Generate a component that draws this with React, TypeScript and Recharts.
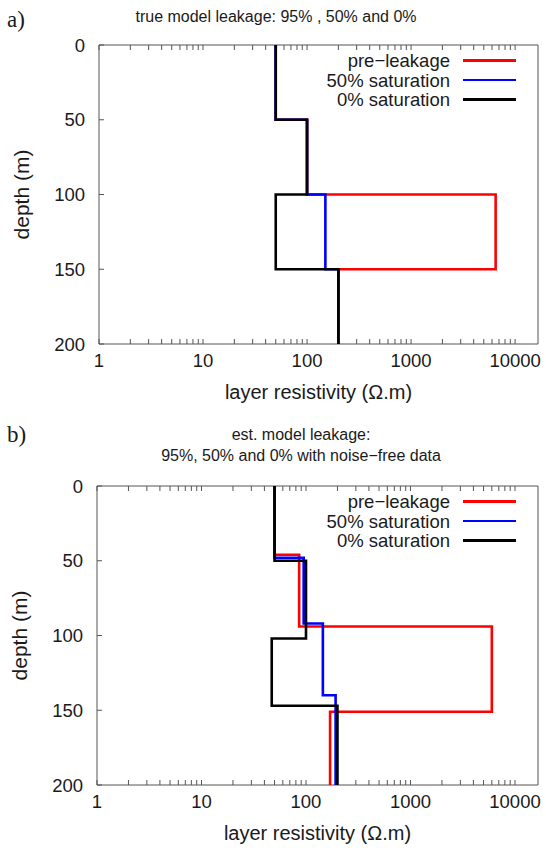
import React from "react";
import { Scatter, ScatterChart, XAxis, YAxis } from "recharts";

// panel a: true model, layer tops (m) and resistivities (ohm.m)
const trueTops = [0, 50, 100, 150];
const truePre = [50, 100, 6500, 200];
const true50 = [50, 100, 150, 200];
const true0 = [50, 100, 50, 200];

// panel b: estimated models, each with its own interfaces
const estPreTops = [0, 46, 94, 151];
const estPre = [50, 86, 6000, 170];
const est50Tops = [0, 48, 92, 140];
const est50 = [50, 95, 145, 192];
const est0Tops = [0, 50, 102, 147];
const est0 = [50, 100, 47, 200];

const maxDepth = 200;
const depthTicks = [0, 50, 100, 150, 200];
const resDecades = [1, 10, 100, 1000, 10000];
const resMinor = [1, 10, 100, 1000].flatMap((d) => [2, 3, 4, 5, 6, 7, 8, 9].map((m) => m * d));
const resTicks = [...resDecades, ...resMinor].sort((a, b) => a - b);
const resDomain = [1, 16600];

const seriesNames = ["pre\u2212leakage", "50% saturation", "0% saturation"];
const seriesColors = ["#ff0000", "#0000ff", "#000000"];

const FONT = '"Liberation Sans", Arial, Helvetica, sans-serif';
const INK = "#1a1a1a";
const FRAME = "#555555";

type Pt = { res: number; depth: number };

// turn layers into a step profile
function profile(tops: number[], res: number[]): Pt[] {
  const pts: Pt[] = [];
  tops.forEach((top, i) => {
    const bottom = i + 1 < tops.length ? tops[i + 1] : maxDepth;
    pts.push({ res: res[i], depth: top });
    pts.push({ res: res[i], depth: bottom });
  });
  return pts;
}

const decadeLabel = (v: number) => (resDecades.includes(v) ? String(v) : "");
const noLabel = () => "";

function LegendBox({ top }: { top: number }) {
  return (
    <div style={{ position: "absolute", top, right: 30, fontFamily: FONT, fontSize: 18.5, lineHeight: "17px", color: INK }}>
      {seriesNames.map((name, i) => (
        <div key={name} style={{ display: "flex", alignItems: "center", justifyContent: "flex-end", height: 19.7 }}>
          <span>{name}</span>
          <span style={{ display: "inline-block", width: 53, height: 2.8, marginLeft: 13, background: seriesColors[i] }} />
        </div>
      ))}
    </div>
  );
}

function DepthPanel({ top, left, series }: { top: number; left: number; series: Pt[][] }) {
  const tickStyle = { fill: INK, fontSize: 18.5, fontFamily: FONT };
  return (
    <div style={{ position: "absolute", top, left: 0 }}>
      <ScatterChart width={546} height={411} margin={{ top: 44, right: 7, left: left - 87, bottom: 9 }}>
        <XAxis
          dataKey="res"
          type="number"
          scale="log"
          domain={resDomain}
          allowDataOverflow
          ticks={resTicks}
          interval={0}
          tickFormatter={decadeLabel}
          tick={tickStyle}
          tickSize={-5}
          tickMargin={15}
          height={58}
          axisLine={{ stroke: FRAME }}
          tickLine={{ stroke: FRAME }}
          label={{ value: "layer resistivity (\u03a9.m)", position: "insideBottom", offset: 3, fill: INK, fontSize: 20, fontFamily: FONT }}
        />
        <XAxis
          xAxisId="top"
          orientation="top"
          dataKey="res"
          type="number"
          scale="log"
          domain={resDomain}
          allowDataOverflow
          ticks={resTicks}
          interval={0}
          tickFormatter={noLabel}
          tickSize={-5}
          height={1}
          axisLine={{ stroke: FRAME }}
          tickLine={{ stroke: FRAME }}
        />
        <YAxis
          dataKey="depth"
          type="number"
          reversed
          domain={[0, maxDepth]}
          ticks={depthTicks}
          interval={0}
          tick={tickStyle}
          tickSize={-5}
          tickMargin={19}
          width={87}
          axisLine={{ stroke: FRAME }}
          tickLine={{ stroke: FRAME }}
          label={{
            value: "depth (m)",
            angle: -90,
            position: "insideLeft",
            offset: 10,
            fill: INK,
            fontSize: 21,
            fontFamily: FONT,
            style: { textAnchor: "middle" },
          }}
        />
        <YAxis
          yAxisId="right"
          orientation="right"
          dataKey="depth"
          type="number"
          reversed
          domain={[0, maxDepth]}
          ticks={depthTicks}
          interval={0}
          tickFormatter={noLabel}
          tickSize={-5}
          width={1}
          axisLine={{ stroke: FRAME }}
          tickLine={{ stroke: FRAME }}
        />
        {series.map((pts, i) => (
          <Scatter
            key={seriesNames[i]}
            name={seriesNames[i]}
            data={pts}
            fill={seriesColors[i]}
            line={{ stroke: seriesColors[i], strokeWidth: 2.6 }}
            shape={() => <g />}
            isAnimationActive={false}
          />
        ))}
      </ScatterChart>
      <LegendBox top={50.5} />
    </div>
  );
}

const abs = (top: number, left: number, extra: React.CSSProperties = {}): React.CSSProperties => ({
  position: "absolute",
  top,
  left,
  ...extra,
});

export default function App() {
  const trueSeries = [profile(trueTops, truePre), profile(trueTops, true50), profile(trueTops, true0)];
  const estSeries = [profile(estPreTops, estPre), profile(est50Tops, est50), profile(est0Tops, est0)];
  const titleStyle: React.CSSProperties = { width: 400, textAlign: "center", fontFamily: FONT, fontSize: 16, lineHeight: "21px", color: INK };
  const tagStyle: React.CSSProperties = { fontFamily: '"Liberation Serif", "Times New Roman", serif', fontSize: 23, lineHeight: "24px", color: INK };

  return (
    <div style={{ position: "absolute", top: 0, left: 0, width: 546, height: 848, background: "#fff", overflow: "hidden" }}>
      <DepthPanel top={0} left={99} series={trueSeries} />
      <DepthPanel top={441} left={97} series={estSeries} />
      <div style={abs(8, 7, tagStyle)}>a)</div>
      <div style={abs(6, 76, titleStyle)}>true model leakage: 95% , 50% and 0%</div>
      <div style={abs(423, 7, tagStyle)}>b)</div>
      <div style={abs(424, 101, titleStyle)}>
        est. model leakage:
        <br />
        95%, 50% and 0% with noise{"\u2212"}free data
      </div>
    </div>
  );
}
